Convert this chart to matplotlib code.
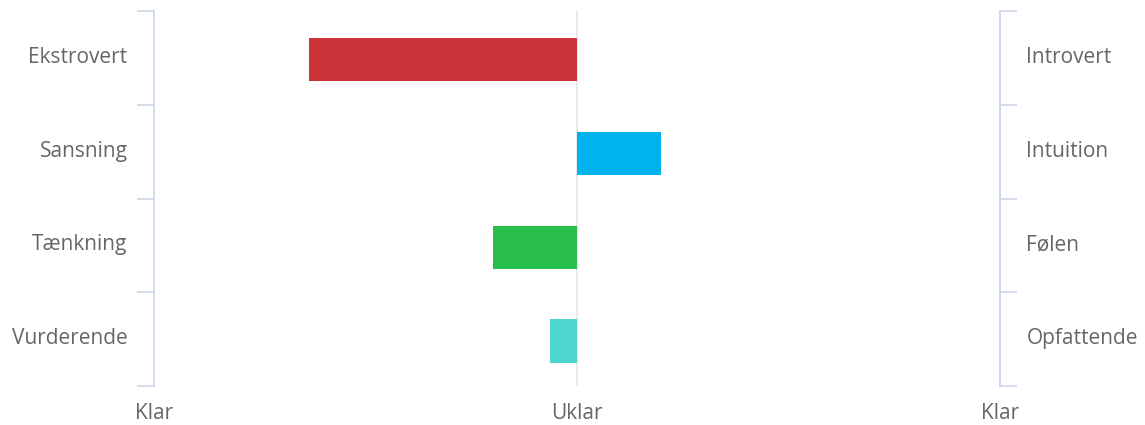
import numpy as np
import matplotlib.pyplot as plt
import matplotlib.transforms as mtransforms

# data
left_labels = ['Ekstrovert', 'Sansning', 'Tænkning', 'Vurderende']
right_labels = ['Introvert', 'Intuition', 'Følen', 'Opfattende']
scores = [-63.4, 19.8, -19.8, -6.4]
colors = ['#cc3339', '#00b3ed', '#27be4a', '#4dd6d0']
x_ticks = [-100, 0, 100]
x_labels = ['Klar', 'Uklar', 'Klar']

plt.rcParams['font.family'] = ['Open Sans', 'DejaVu Sans']
txt = '#666666'
axis_col = '#ccd6eb'
fs = 15

fig = plt.figure(figsize=(11.45, 4.25), dpi=100)
ax = fig.add_axes([154/1145, 39/425, 846/1145, 375/425])

y = np.arange(len(left_labels))
ax.barh(y + 0.02, scores, height=0.46, color=colors, zorder=3)
ax.axvline(0, color='#e6e6e6', lw=1.2, zorder=2)

ax.set_xlim(-100, 100)
ax.set_ylim(len(left_labels) - 0.5, -0.5)

for s in ['top', 'bottom']:
    ax.spines[s].set_visible(False)
for s in ['left', 'right']:
    ax.spines[s].set_color(axis_col)
    ax.spines[s].set_linewidth(1.2)

ax.set_xticks(x_ticks)
ax.set_xticklabels(x_labels)
ax.tick_params(axis='x', length=0, pad=12, labelsize=fs, labelcolor=txt)

# category boundaries as major ticks, labels on minor ticks
bounds = np.arange(-0.5, len(left_labels), 1)
ax.set_yticks(bounds)
ax.set_yticklabels([])
ax.set_yticks(y, minor=True)
ax.set_yticklabels(left_labels, minor=True)
ax.tick_params(axis='y', which='major', length=12, width=1.2, color=axis_col,
               left=True, right=True)
ax.tick_params(axis='y', which='minor', length=0, pad=19, labelsize=fs,
               labelcolor=txt)

ax2 = ax.twinx()
ax2.set_ylim(ax.get_ylim())
for s in ['top', 'bottom', 'left']:
    ax2.spines[s].set_visible(False)
ax2.spines['right'].set_color(axis_col)
ax2.spines['right'].set_linewidth(1.2)
ax2.set_yticks(bounds)
ax2.set_yticklabels([])
ax2.set_yticks(y, minor=True)
ax2.set_yticklabels(right_labels, minor=True)
ax2.tick_params(axis='y', which='major', length=12, width=1.2, color=axis_col)
ax2.tick_params(axis='y', which='minor', length=0, pad=19, labelsize=fs,
                labelcolor=txt)

# nudge category labels up a little
shift = mtransforms.ScaledTranslation(0, 3/100, fig.dpi_scale_trans)
for lab in ax.get_yticklabels(minor=True) + ax2.get_yticklabels(minor=True):
    lab.set_transform(lab.get_transform() + shift)

fig.savefig('out.png', dpi=100)
